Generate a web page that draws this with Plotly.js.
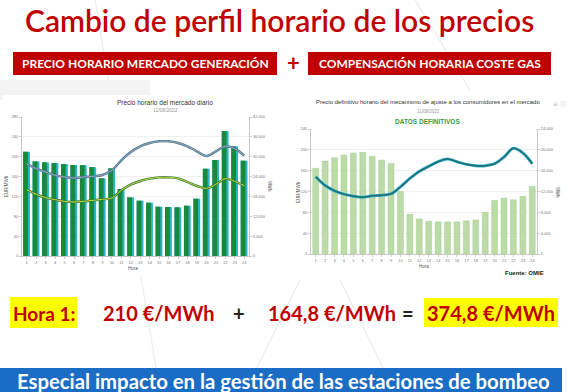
<!DOCTYPE html>
<html>
<head>
<meta charset="utf-8">
<script src="https://cdn.plot.ly/plotly-3.0.1.min.js"></script>
<style>html,body{margin:0;padding:0;background:#fff;}#chart{width:567px;height:392px;}</style>
</head>
<body>
<div id="chart"></div>
<script>
// ---- Data ----
var horas = [1,2,3,4,5,6,7,8,9,10,11,12,13,14,15,16,17,18,19,20,21,22,23,24];
var horaLabels = horas.map(String);
// Precio horario del mercado diario (EUR/MWh)
var precioEspana   = [210,190.6,188.6,187.2,185.2,183.2,183,179,156.4,176.5,134.9,118,111.4,107.4,99.3,98.7,98,101.3,115.4,175.8,193.3,251.7,220.8,192];
var precioPortugal = [210,190.6,188.6,187.2,185.2,183.2,183,179,156.4,176.5,134.9,118,111.4,107.4,99.3,98.7,98,101.3,115.4,175.8,193.3,251.7,220.8,192];
// Energía (MWh)
var energiaTotal   = [27900,26390,25380,24375,23870,23570,23870,24070,24475,25885,28900,31420,33140,34145,34650,34650,34145,33140,31620,30215,31620,33140,32430,30315];
var energiaEspana  = [20040,18630,17625,17020,16520,16315,16520,16820,17120,17525,19840,21555,22660,23365,23770,23770,23465,22360,21150,20445,21655,23365,22560,21250];
// Mecanismo de ajuste (EUR/MWh) y energía (MWh)
var precioAjuste   = [164.8,178.5,184.9,190,193.9,195.2,187.5,180.4,174,120,76.4,67.4,62.9,61.6,61.6,61.6,63.6,65.5,80.3,102.7,107.2,104,110.4,129.7];
var energiaAjuste  = [14830,13160,12135,11490,11105,10915,11170,11300,11555,12905,14510,15860,16820,17720,18235,17720,17205,16950,16950,17335,18620,20290,19390,17335];

var W = 567, H = 392;
function X(p){return p/W;}
function Y(p){return 1-p/H;}

var tickFont = {family:'Liberation Sans, Arial', size:4, color:'#777'};

var traces = [
  {type:'bar', x:horas, y:precioPortugal, xaxis:'x', yaxis:'y', marker:{color:'#27b3c9'}, width:0.72, offset:-0.38, hoverinfo:'none'},
  {type:'bar', x:horas, y:precioEspana, xaxis:'x', yaxis:'y', marker:{color:'#1a8a3a'}, width:0.5, offset:-0.38, hoverinfo:'none'},
  {type:'scatter', mode:'lines', x:horas, y:energiaTotal, xaxis:'x', yaxis:'y2', line:{color:'#4a7a98', width:2.4, shape:'spline'}, hoverinfo:'none'},
  {type:'scatter', mode:'lines', x:horas, y:energiaTotal, xaxis:'x', yaxis:'y2', line:{color:'#9aa6b0', width:1, shape:'spline'}, hoverinfo:'none'},
  {type:'scatter', mode:'lines', x:horas, y:energiaEspana, xaxis:'x', yaxis:'y2', line:{color:'#2f7d2f', width:2.4, shape:'spline'}, hoverinfo:'none'},
  {type:'scatter', mode:'lines', x:horas, y:energiaEspana, xaxis:'x', yaxis:'y2', line:{color:'#cbd64a', width:1, shape:'spline'}, hoverinfo:'none'},
  {type:'bar', x:horas, y:precioAjuste, xaxis:'x3', yaxis:'y3', marker:{color:'#bcdba8', line:{color:'#a5cc8c', width:0.5}}, width:0.62, hoverinfo:'none'},
  {type:'scatter', mode:'lines', x:horas, y:energiaAjuste, xaxis:'x3', yaxis:'y4', line:{color:'#35b4c4', width:3, shape:'spline'}, hoverinfo:'none'},
  {type:'scatter', mode:'lines', x:horas, y:energiaAjuste, xaxis:'x3', yaxis:'y4', line:{color:'#1d6d7a', width:1.6, shape:'spline'}, hoverinfo:'none'}
];

function xax(dom, anchor){
  return {domain:dom, anchor:anchor, range:[0.5,24.5], tickmode:'array', tickvals:horas, ticktext:horaLabels,
    tickfont:tickFont, showgrid:false, zeroline:false, showline:true, linecolor:'#c8c8c8', linewidth:1,
    ticks:'outside', ticklen:2, tickcolor:'#ccc', fixedrange:true};
}
function yax(dom, anchor, range, dtick, side, overlay){
  var a = {domain:dom, anchor:anchor, range:range, dtick:dtick, tick0:0, tickfont:tickFont, side:side,
    showgrid: !overlay, gridcolor:'#e6e6e6', gridwidth:0.6, zeroline:false, showline:true, linecolor:'#c8c8c8', linewidth:1,
    ticks:'outside', ticklen:2, tickcolor:'#ccc', tickformat:',d', fixedrange:true};
  if (overlay) a.overlaying = overlay;
  return a;
}

var ly1 = [Y(256), Y(117)];
var ly3 = [Y(254), Y(129)];

var shapes = [
  // faint watermark lines in background
  {type:'line', xref:'paper', yref:'paper', x0:X(95), y0:Y(0), x1:X(160), y1:Y(392), line:{color:'#ececec', width:1.2}, layer:'below'},
  {type:'line', xref:'paper', yref:'paper', x0:X(300), y0:Y(280), x1:X(245), y1:Y(392), line:{color:'#ececec', width:1.2}, layer:'below'},
  {type:'line', xref:'paper', yref:'paper', x0:X(340), y0:Y(280), x1:X(395), y1:Y(392), line:{color:'#ececec', width:1.2}, layer:'below'},
  {type:'line', xref:'paper', yref:'paper', x0:X(415), y0:Y(0), x1:X(470), y1:Y(90), line:{color:'#ececec', width:1.2}, layer:'below'},
  {type:'path', xref:'paper', yref:'paper', path:'M '+X(0)+','+Y(80)+' L '+X(150)+','+Y(80)+' L '+X(150)+','+Y(100)+' L '+X(0)+','+Y(100)+' Z', fillcolor:'#f3f3f3', line:{width:0}, layer:'below'},
  // chart panels
  {type:'rect', xref:'paper', yref:'paper', x0:X(3), y0:Y(275), x1:X(279), y1:Y(95), fillcolor:'#ffffff', line:{width:0}, layer:'below'},
  {type:'rect', xref:'paper', yref:'paper', x0:X(292), y0:Y(278), x1:X(563), y1:Y(95), fillcolor:'#ffffff', line:{width:0}, layer:'below'},
  // red header boxes
  {type:'rect', xref:'paper', yref:'paper', x0:X(13), y0:Y(75), x1:X(277), y1:Y(52), fillcolor:'#c00000', line:{width:0}, layer:'below'},
  {type:'rect', xref:'paper', yref:'paper', x0:X(308), y0:Y(75), x1:X(551), y1:Y(52), fillcolor:'#c00000', line:{width:0}, layer:'below'},
  // yellow highlights
  {type:'rect', xref:'paper', yref:'paper', x0:X(10), y0:Y(328), x1:X(77), y1:Y(297), fillcolor:'#ffff00', line:{width:0}, layer:'below'},
  {type:'rect', xref:'paper', yref:'paper', x0:X(424), y0:Y(327), x1:X(558), y1:Y(298), fillcolor:'#ffff00', line:{width:0}, layer:'below'},
  // blue banner
  {type:'rect', xref:'paper', yref:'paper', x0:X(0), y0:Y(392), x1:X(562), y1:Y(368), fillcolor:'#1b6cc4', line:{width:0}, layer:'below'}
];

function ann(text, x, y, font, xanchor, extra){
  var a = {text:text, xref:'paper', yref:'paper', x:X(x), y:Y(y), xanchor:xanchor||'center', yanchor:'middle', showarrow:false, font:font};
  if (extra) for (var k in extra) a[k]=extra[k];
  return a;
}
var red = '#c00000';
var annotations = [
  ann('Cambio de perfil horario de los precios', 279, 20, {family:'Lato', size:30, color:red, weight:600}),
  ann('<b>PRECIO HORARIO MERCADO GENERACIÓN</b>', 145, 63.5, {family:'Lato', size:12, color:'#fff'}),
  ann('<b>+</b>', 293, 62, {family:'Lato', size:22, color:red}),
  ann('<b>COMPENSACIÓN HORARIA COSTE GAS</b>', 429.5, 63.5, {family:'Lato', size:12, color:'#fff'}),
  // left chart titles
  ann('Precio horario del mercado diario', 165, 102, {family:'Liberation Sans, Arial', size:6.5, color:'#333'}),
  ann('11/08/2022', 165, 110, {family:'Liberation Sans, Arial', size:5, color:'#999'}),
  ann('Hora', 133, 268, {family:'Liberation Sans, Arial', size:4.5, color:'#555'}),
  ann('EUR/MWh', 6, 186, {family:'Liberation Sans, Arial', size:4.5, color:'#555'}, 'center', {textangle:-90}),
  ann('MWh', 270, 186, {family:'Liberation Sans, Arial', size:4.5, color:'#555'}, 'center', {textangle:90}),
  // right chart titles
  ann('Precio definitivo horario del mecanismo de ajuste a los consumidores en el mercado', 428, 102, {family:'Liberation Sans, Arial', size:6, color:'#333'}),
  ann('11/08/2022', 428, 111, {family:'Liberation Sans, Arial', size:4.5, color:'#999'}),
  ann('<b>DATOS DEFINITIVOS</b>', 427, 121, {family:'Liberation Sans, Arial', size:6.5, color:'#3a9b3a'}),
  ann('Hora', 424, 266, {family:'Liberation Sans, Arial', size:4.5, color:'#555'}),
  ann('EUR/MWh', 298, 192, {family:'Liberation Sans, Arial', size:4.5, color:'#555'}, 'center', {textangle:-90}),
  ann('MWh', 558, 192, {family:'Liberation Sans, Arial', size:4.5, color:'#555'}, 'center', {textangle:90}),
  ann('≡ ⓘ', 559, 103, {family:'DejaVu Sans', size:6, color:'#bbb'}),
  ann('<b>Fuente: OMIE</b>', 524, 273, {family:'Liberation Sans, Arial', size:6, color:'#222'}),
  // bottom formula
  ann('<b>Hora 1:</b>', 43.5, 313, {family:'Lato', size:19, color:red}),
  ann('<b>210 €/MWh</b>', 159, 313, {family:'Lato', size:20, color:red}),
  ann('<b>+</b>', 239, 313, {family:'Lato', size:20, color:'#222'}),
  ann('<b>164,8 €/MWh</b>', 332, 313, {family:'Lato', size:20, color:red}),
  ann('<b>=</b>', 408, 313, {family:'Lato', size:20, color:'#222'}),
  ann('<b>374,8 €/MWh</b>', 491, 313, {family:'Lato', size:20, color:red}),
  ann('<b>Especial impacto en la gestión de las estaciones de bombeo</b>', 283, 380.5, {family:'Lato', size:20.3, color:'#fff'})
];

var layout = {
  width:W, height:H, margin:{l:0,r:0,t:0,b:0},
  paper_bgcolor:'#ffffff', plot_bgcolor:'rgba(0,0,0,0)',
  showlegend:false, barmode:'overlay', separators:',.',
  xaxis: xax([X(22), X(249)], 'y'),
  yaxis: yax(ly1, 'x', [0,280], 40, 'left'),
  yaxis2: yax(ly1, 'x', [0,42000], 6000, 'right', 'y'),
  xaxis3: xax([X(311), X(537)], 'y3'),
  yaxis3: yax(ly3, 'x3', [0,240], 40, 'left'),
  yaxis4: yax(ly3, 'x3', [0,24000], 4000, 'right', 'y3'),
  shapes: shapes,
  annotations: annotations
};

Plotly.newPlot('chart', traces, layout, {displayModeBar:false, staticPlot:true});
</script>
</body>
</html>
